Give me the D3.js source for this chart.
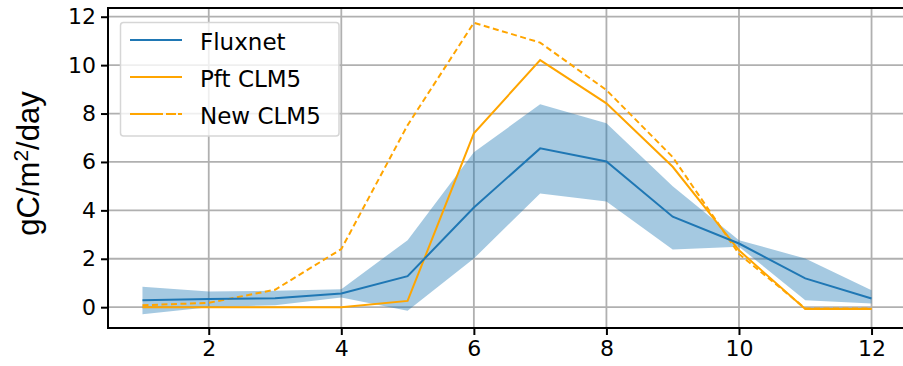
<!DOCTYPE html>
<html>
<head>
<meta charset="utf-8">
<script src="https://cdn.jsdelivr.net/npm/d3@7"></script>
<style>
  html, body { margin: 0; padding: 0; background: #fff; }
  svg { display: block; }
</style>
</head>
<body>
<svg id="chart" width="903" height="366"></svg>
<script>
// Monthly GPP: Fluxnet observations (mean with spread) against two CLM5 runs
const months = [1, 2, 3, 4, 5, 6, 7, 8, 9, 10, 11, 12];
const fluxnetMean  = [0.29, 0.34, 0.37, 0.57, 1.28, 4.12, 6.56, 6.02, 3.74, 2.63, 1.19, 0.36];
const fluxnetUpper = [0.84, 0.65, 0.68, 0.74, 2.77, 6.40, 8.38, 7.60, 5.00, 2.77, 2.01, 0.70];
const fluxnetLower = [-0.29, 0.00, 0.08, 0.40, -0.15, 2.01, 4.70, 4.37, 2.38, 2.50, 0.29, 0.15];
const pftCLM5 = [0.00, 0.00, 0.00, 0.00, 0.26, 7.18, 10.21, 8.42, 5.80, 2.35, -0.08, -0.08];
const newCLM5 = [0.08, 0.18, 0.72, 2.40, 7.52, 11.75, 10.93, 8.97, 6.20, 2.20, -0.05, -0.05];
const xTicks = [2, 4, 6, 8, 10, 12];
const yTicks = [0, 2, 4, 6, 8, 10, 12];
const seriesNames = ["Fluxnet", "Pft CLM5", "New CLM5"];

const blue = "#1f77b4";
const orange = "#ffa500";
const tickFont = "'DejaVu Sans', sans-serif";

const svg = d3.select("#chart");
const plot = { left: 108, top: 8, right: 908, bottom: 328 };

const x = d3.scaleLinear().domain([0.48, 12.55]).range([plot.left, plot.right]);
const y = d3.scaleLinear().domain([-0.86, 12.36]).range([plot.bottom, plot.top]);

// grid
const grid = svg.append("g").attr("stroke", "#b0b0b0").attr("stroke-width", 1.8);
grid.selectAll("line.v").data(xTicks).join("line")
  .attr("x1", d => x(d)).attr("x2", d => x(d))
  .attr("y1", plot.top).attr("y2", plot.bottom);
grid.selectAll("line.h").data(yTicks).join("line")
  .attr("y1", d => y(d)).attr("y2", d => y(d))
  .attr("x1", plot.left).attr("x2", plot.right);

// observation spread
const band = months.map((m, i) => ({ m, lo: fluxnetLower[i], hi: fluxnetUpper[i] }));
svg.append("path")
  .datum(band)
  .attr("fill", blue).attr("fill-opacity", 0.4)
  .attr("d", d3.area().x(d => x(d.m)).y0(d => y(d.lo)).y1(d => y(d.hi)));

const line = d3.line().x(d => x(d[0])).y(d => y(d[1]));
const zipped = arr => months.map((m, i) => [m, arr[i]]);

svg.append("path").datum(zipped(newCLM5))
  .attr("fill", "none").attr("stroke", orange).attr("stroke-width", 2)
  .attr("stroke-dasharray", "6,3.5").attr("d", line);
svg.append("path").datum(zipped(pftCLM5))
  .attr("fill", "none").attr("stroke", orange).attr("stroke-width", 2)
  .attr("d", line);
svg.append("path").datum(zipped(fluxnetMean))
  .attr("fill", "none").attr("stroke", blue).attr("stroke-width", 2)
  .attr("d", line);

// axes
const xAxis = svg.append("g")
  .attr("transform", `translate(0,${plot.bottom})`)
  .call(d3.axisBottom(x).tickValues(xTicks).tickSize(7).tickPadding(5).tickFormat(d3.format("d")));
const yAxis = svg.append("g")
  .attr("transform", `translate(${plot.left},0)`)
  .call(d3.axisLeft(y).tickValues(yTicks).tickSize(7).tickPadding(5).tickFormat(d3.format("d")));
[xAxis, yAxis].forEach(g => {
  g.select(".domain").remove();
  g.selectAll(".tick line").attr("stroke", "#000").attr("stroke-width", 2);
  g.selectAll(".tick text").attr("fill", "#000")
    .style("font-family", tickFont).style("font-size", "22px");
});

// spines (left, bottom, top; right edge lies beyond the canvas)
svg.append("path")
  .attr("fill", "none").attr("stroke", "#000").attr("stroke-width", 2)
  .attr("d", `M${plot.right},${plot.top}H${plot.left}V${plot.bottom}H${plot.right}`);

// y label
const yl = svg.append("text")
  .attr("transform", "translate(38.5,163.5) rotate(-90)")
  .attr("text-anchor", "middle")
  .style("font-family", "'Liberation Sans', Arial, sans-serif")
  .style("font-size", "31px")
  .attr("fill", "#000");
yl.append("tspan").text("gC/m");
yl.append("tspan").attr("dy", -11).style("font-size", "21px").text("2");
yl.append("tspan").attr("dy", 11).text("/day");

// legend
const legend = svg.append("g");
legend.append("rect")
  .attr("x", 120.5).attr("y", 22.5).attr("width", 218.5).attr("height", 113.5)
  .attr("rx", 3).attr("fill", "#fff").attr("fill-opacity", 0.8)
  .attr("stroke", "#d6d6d6").attr("stroke-width", 1.5);
const legendRows = [
  { name: seriesNames[0], color: blue, dash: null, yPos: 40 },
  { name: seriesNames[1], color: orange, dash: null, yPos: 77 },
  { name: seriesNames[2], color: orange, dash: "33,3,10,2,6,50", yPos: 114 }
];
legendRows.forEach(r => {
  legend.append("line")
    .attr("x1", 130).attr("x2", 182).attr("y1", r.yPos).attr("y2", r.yPos)
    .attr("stroke", r.color).attr("stroke-width", 2)
    .attr("stroke-dasharray", r.dash);
  legend.append("text")
    .attr("x", 200).attr("y", r.yPos + 10)
    .style("font-family", tickFont).style("font-size", "23px")
    .attr("fill", "#000").text(r.name);
});
</script>
</body>
</html>
